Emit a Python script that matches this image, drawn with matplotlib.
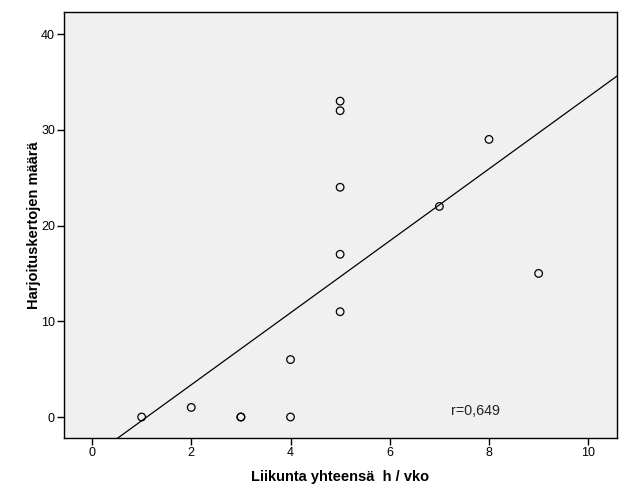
import numpy as np
import matplotlib
matplotlib.use("Agg")
import matplotlib.pyplot as plt

plt.rcParams['font.family'] = ['Liberation Sans', 'DejaVu Sans']

# hours of exercise per week vs. number of training sessions
liikunta = [1, 2, 3, 3, 4, 4, 5, 5, 5, 5, 5, 7, 8, 9]
harjoitukset = [0, 1, 0, 0, 0, 6, 11, 17, 24, 32, 33, 22, 29, 15]
x_ticks = [0, 2, 4, 6, 8, 10]
y_ticks = [0, 10, 20, 30, 40]
r_label = "r=0,649"

x = np.array(liikunta, dtype=float)
y = np.array(harjoitukset, dtype=float)
slope, intercept = np.polyfit(x, y, 1)

fig = plt.figure(figsize=(6.29, 5.04), dpi=100)
ax = fig.add_axes([0.1017, 0.131, 0.8793, 0.845])
ax.set_facecolor("#f0f0f0")

xlim = (-0.565, 10.58)
ylim = (-2.19, 42.3)
xx = np.array(xlim)
ax.plot(xx, slope * xx + intercept, color="black", linewidth=0.9, zorder=2)

ax.scatter(x, y, s=30, facecolors="none", edgecolors="black", linewidths=0.9, zorder=3)

ax.text(7.72, 0.6, r_label, fontsize=10.3, ha="center", va="center", color="#222222")

ax.set_xlim(*xlim)
ax.set_ylim(*ylim)
ax.set_xticks(x_ticks)
ax.set_yticks(y_ticks)
ax.tick_params(direction="out", length=5, width=1, labelsize=9, colors="black", pad=1.5)

for s in ax.spines.values():
    s.set_linewidth(1)
    s.set_color("black")

ax.set_xlabel("Liikunta yhteensä  h / vko", fontsize=10.5, fontweight="bold", labelpad=8)
ax.set_ylabel("Harjoituskertojen määrä", fontsize=10.5, fontweight="bold", labelpad=0)

fig.savefig("out.png", dpi=100, facecolor="white")
